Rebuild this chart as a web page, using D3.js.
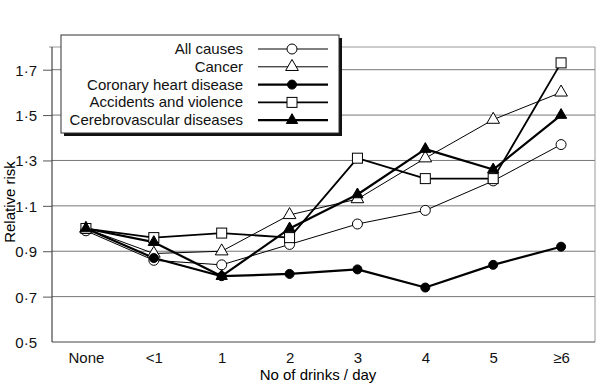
<!DOCTYPE html>
<html lang="en">
<head>
  <meta charset="UTF-8">
  <title>Relative risk by drinks per day</title>
  <style>
    body { margin: 0; background: #fff; }
    svg { display: block; font-family: "Liberation Sans", Arial, sans-serif; }
    .tick text { font-size: 15px; fill: #111; }
    .legend text { font-size: 15px; fill: #111; }
  </style>
</head>
<body>
<svg width="611" height="384"></svg>

<script src="https://cdn.jsdelivr.net/npm/d3@7/dist/d3.min.js"></script>
<script>
  const categories = ["None", "<1", "1", "2", "3", "4", "5", "\u22656"];
  const yTicks = [0.5, 0.7, 0.9, 1.1, 1.3, 1.5, 1.7];

  const allCauses = [0.99, 0.86, 0.84, 0.93, 1.02, 1.08, 1.21, 1.37];
  const cancer = [1.0, 0.89, 0.90, 1.06, 1.13, 1.31, 1.48, 1.60];
  const coronary = [1.0, 0.87, 0.79, 0.80, 0.82, 0.74, 0.84, 0.92];
  const accidents = [1.0, 0.96, 0.98, 0.96, 1.31, 1.22, 1.22, 1.73];
  const cerebro = [1.0, 0.94, 0.79, 1.0, 1.15, 1.35, 1.26, 1.50];

  const seriesNames = ["All causes", "Cancer", "Coronary heart disease",
    "Accidents and violence", "Cerebrovascular diseases"];

  const series = [
    {name: seriesNames[0], values: allCauses, shape: "circle", filled: false, width: 1},
    {name: seriesNames[1], values: cancer, shape: "triangle", filled: false, width: 1},
    {name: seriesNames[2], values: coronary, shape: "circle", filled: true, width: 2.2},
    {name: seriesNames[3], values: accidents, shape: "square", filled: false, width: 1.8},
    {name: seriesNames[4], values: cerebro, shape: "triangle", filled: true, width: 2.2}
  ];

  const svg = d3.select("svg");
  const plotL = 52, plotR = 595, plotT = 47, plotB = 342;

  const x = d3.scalePoint()
    .domain(categories)
    .range([plotL, plotR])
    .padding(0.5);

  const y = d3.scaleLinear()
    .domain([0.5, 1.8])
    .range([plotB, plotT]);

  const fmt = d => d3.format(".1f")(d).replace(".", "\u00b7");

  // grid lines
  svg.append("g")
    .selectAll("line")
    .data(yTicks.slice(1))
    .enter()
    .append("line")
    .attr("x1", plotL).attr("x2", plotR)
    .attr("y1", d => y(d)).attr("y2", d => y(d))
    .attr("stroke", "#777")
    .attr("stroke-width", 1);

  // frame: top and right
  svg.append("path")
    .attr("d", "M" + (plotL - 3) + "," + plotT + "H" + plotR + "V" + plotB)
    .attr("fill", "none")
    .attr("stroke", "#999")
    .attr("stroke-width", 1);

  // y axis
  const yAxis = svg.append("g")
    .attr("transform", "translate(" + plotL + ",0)")
    .call(d3.axisLeft(y).tickValues(yTicks).tickFormat(fmt).tickSize(9).tickPadding(6));
  yAxis.select(".domain").attr("d", "M0," + plotT + "V" + plotB).attr("stroke", "#222");
  yAxis.selectAll(".tick line").attr("stroke", "#555");
  yAxis.selectAll(".tick").filter(d => d === 0.5).select("line").remove();
  yAxis.selectAll(".tick text").attr("dy", "0.36em");

  // x axis
  const xAxis = svg.append("g")
    .attr("transform", "translate(0," + plotB + ")")
    .call(d3.axisBottom(x).tickSize(0).tickPadding(10));
  xAxis.select(".domain").attr("d", "M" + plotL + ",0H" + plotR).attr("stroke", "#444");

  // axis titles
  svg.append("text")
    .attr("transform", "translate(15,202) rotate(-90)")
    .attr("text-anchor", "middle")
    .style("font-size", "15px")
    .text("Relative risk");

  svg.append("text")
    .attr("x", 318).attr("y", 380)
    .attr("text-anchor", "middle")
    .style("font-size", "15px")
    .text("No of drinks / day");

  function drawMarker(g, shape, filled) {
    const fill = filled ? "#000" : "#fff";
    if (shape === "circle") {
      g.append("circle").attr("r", filled ? 4.5 : 5)
        .attr("fill", fill).attr("stroke", "#000").attr("stroke-width", 1);
    } else if (shape === "square") {
      g.append("rect").attr("x", -5).attr("y", -5).attr("width", 10).attr("height", 10)
        .attr("fill", fill).attr("stroke", "#000").attr("stroke-width", 1);
    } else {
      g.append("path").attr("d", d3.symbol(d3.symbolTriangle, filled ? 55 : 70)())
        .attr("fill", fill).attr("stroke", "#000").attr("stroke-width", 1);
    }
  }

  const line = d3.line()
    .x((d, i) => x(categories[i]))
    .y(d => y(d));

  series.forEach(s => {
    svg.append("path")
      .datum(s.values)
      .attr("d", line)
      .attr("fill", "none")
      .attr("stroke", "#000")
      .attr("stroke-width", s.width)
      .attr("stroke-linejoin", "round");
  });

  series.forEach(s => {
    s.values.forEach((v, i) => {
      const g = svg.append("g")
        .attr("transform", "translate(" + x(categories[i]) + "," + y(v) + ")");
      drawMarker(g, s.shape, s.filled);
    });
  });

  // legend
  const legend = svg.append("g").attr("class", "legend");
  legend.append("rect")
    .attr("x", 64).attr("y", 38).attr("width", 278).attr("height", 98)
    .attr("fill", "#111");
  legend.append("rect")
    .attr("x", 61).attr("y", 35).attr("width", 278).attr("height", 98)
    .attr("fill", "#fff").attr("stroke", "#333").attr("stroke-width", 1);

  series.forEach((s, i) => {
    const ly = 49 + i * 17.8;
    legend.append("text")
      .attr("x", 243).attr("y", ly + 5)
      .attr("text-anchor", "end")
      .text(s.name);
    legend.append("line")
      .attr("x1", 258).attr("x2", 328)
      .attr("y1", ly).attr("y2", ly)
      .attr("stroke", "#000").attr("stroke-width", s.width);
    const g = legend.append("g").attr("transform", "translate(292," + ly + ")");
    drawMarker(g, s.shape, s.filled);
  });
</script>
</body>
</html>
